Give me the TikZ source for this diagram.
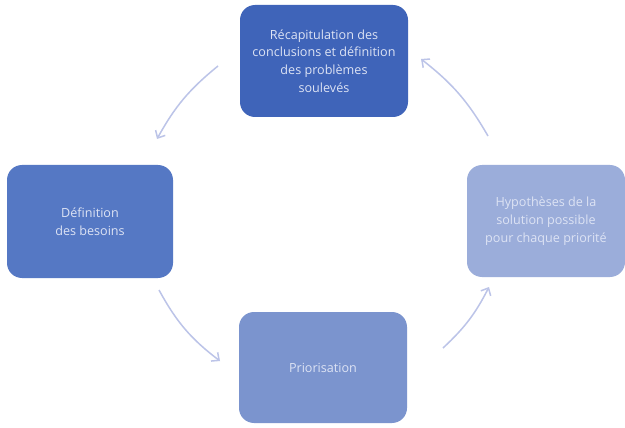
\documentclass[tikz,border=0pt]{standalone}
\usepackage{fontspec}
\setmainfont{Open Sans}
\usetikzlibrary{arrows.meta}
\definecolor{boxA}{HTML}{3F64B9}
\definecolor{boxB}{HTML}{5578C4}
\definecolor{boxC}{HTML}{7B94CE}
\definecolor{boxD}{HTML}{9BADDA}
\definecolor{arrowc}{HTML}{BCC4E8}
\definecolor{textc}{HTML}{DDE3F4}
\tikzset{
  stagebox/.style={rectangle, rounded corners=15pt, minimum width=#1, text=textc,
    font=\fontsize{12.6}{17.8}\selectfont, align=center, inner sep=2pt},
  cyclearrow/.style={draw=arrowc, line width=1.5pt,
    -{Straight Barb[length=6pt,width=11pt,line width=1.5pt]}}
}
\begin{document}
\begin{tikzpicture}[x=1pt,y=-1pt]
  \useasboundingbox (0,0) rectangle (625,428);
  \fill[white] (0,0) rectangle (625,428);
  % the four stages
  \node[stagebox=168pt, fill=boxA, minimum height=112pt] (recap) at (324,61)
    {Récapitulation des\\conclusions et définition\\des problèmes\\soulevés};
  \node[stagebox=166pt, fill=boxB, minimum height=113pt] (besoins) at (90,221.5)
    {Définition\\des besoins};
  \node[stagebox=158pt, fill=boxD, minimum height=112pt] (hypo) at (546,221)
    {Hypothèses de la\\solution possible\\pour chaque priorité};
  \node[stagebox=168pt, fill=boxC, minimum height=111pt] (prio) at (323,367.5)
    {Priorisation};
  % connectors between stages
  \coordinate (a1) at (218,66);  \coordinate (a2) at (157,139);
  \coordinate (b1) at (159,290); \coordinate (b2) at (220,361);
  \coordinate (c1) at (443,348); \coordinate (c2) at (489,287);
  \coordinate (d1) at (488,136); \coordinate (d2) at (421,59);
  \draw[cyclearrow] (a1) to[bend right=11] (a2);
  \draw[cyclearrow] (b1) to[bend right=12] (b2);
  \draw[cyclearrow] (c1) to[bend right=10] (c2);
  \draw[cyclearrow] (d1) to[bend right=11] (d2);
\end{tikzpicture}
\end{document}
